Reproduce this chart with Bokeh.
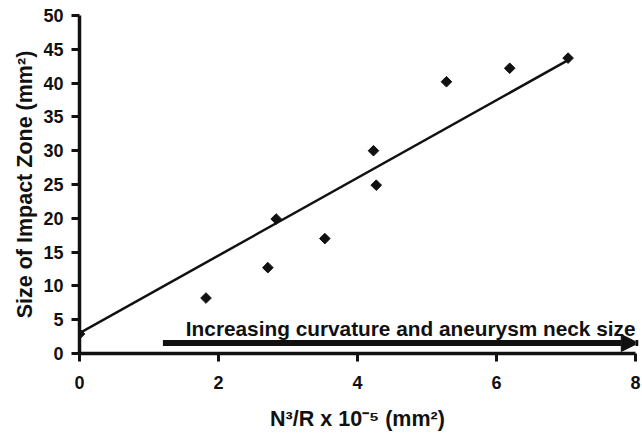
import numpy as np
from bokeh.plotting import figure
from bokeh.models import Range1d, FixedTicker, Arrow, NormalHead, Label
from bokeh.embed import file_html
from bokeh.resources import INLINE

# data
x_vals = [0.0, 1.82, 2.71, 2.83, 3.53, 4.23, 4.27, 5.28, 6.19, 7.03]
y_vals = [2.9, 8.2, 12.7, 19.9, 17.0, 30.0, 24.9, 40.2, 42.2, 43.7]
trend_x = [0.0, 7.03]
trend_y = [3.0, 43.4]
arrow_x = [1.2, 8.04]
arrow_y = [1.55, 1.55]
x_ticks = [0, 2, 4, 6, 8]
y_ticks = [0, 5, 10, 15, 20, 25, 30, 35, 40, 45, 50]
note = "Increasing curvature and aneurysm neck size"

FONT = "Liberation Sans"

p = figure(width=642, height=433, output_backend="svg", toolbar_location=None,
           x_range=Range1d(0, 8), y_range=Range1d(0, 50),
           min_border_left=79, min_border_right=7, min_border_top=15, min_border_bottom=80)
p.outline_line_color = None
p.xgrid.visible = False
p.ygrid.visible = False
p.background_fill_color = "white"

for ax in (p.xaxis[0], p.yaxis[0]):
    ax.axis_line_width = 3.5
    ax.axis_line_color = "#111111"
    ax.major_tick_line_width = 3
    ax.major_tick_line_color = "#111111"
    ax.major_tick_out = 8
    ax.major_tick_in = 0
    ax.minor_tick_out = 0
    ax.minor_tick_in = 0
    ax.major_label_text_font = FONT
    ax.major_label_text_font_style = "bold"
    ax.major_label_text_font_size = "18px"
    ax.major_label_text_color = "#111111"
    ax.axis_label_text_font = FONT
    ax.axis_label_text_font_style = "bold"
    ax.axis_label_text_font_size = "21.5px"
    ax.axis_label_text_color = "#111111"

p.xaxis.ticker = FixedTicker(ticks=x_ticks)
p.yaxis.ticker = FixedTicker(ticks=y_ticks)
p.xaxis.major_label_standoff = 14
p.yaxis.major_label_standoff = 8
p.xaxis.axis_label = "N³/R x 10⁻⁵ (mm²)"
p.yaxis.axis_label = "Size of Impact Zone (mm²)"
p.xaxis.axis_label_standoff = 15
p.yaxis.axis_label_standoff = 3

p.line(trend_x, trend_y, line_color="#111111", line_width=2.5)
p.scatter(x_vals, y_vals, marker="square", size=7.5, angle=np.pi / 4,
          fill_color="#111111", line_color="#111111")

p.add_layout(Arrow(end=NormalHead(size=17, fill_color="#111111", line_color="#111111"),
                   x_start=arrow_x[0], y_start=arrow_y[0], x_end=arrow_x[1], y_end=arrow_y[1],
                   line_width=6, line_color="#111111"))
p.add_layout(Label(x=1.53, y=3.7, text=note, text_font=FONT, text_font_style="bold",
                   text_font_size="20.8px", text_color="#111111", text_baseline="alphabetic"))

open("out.html", "w").write(file_html(p, INLINE))
